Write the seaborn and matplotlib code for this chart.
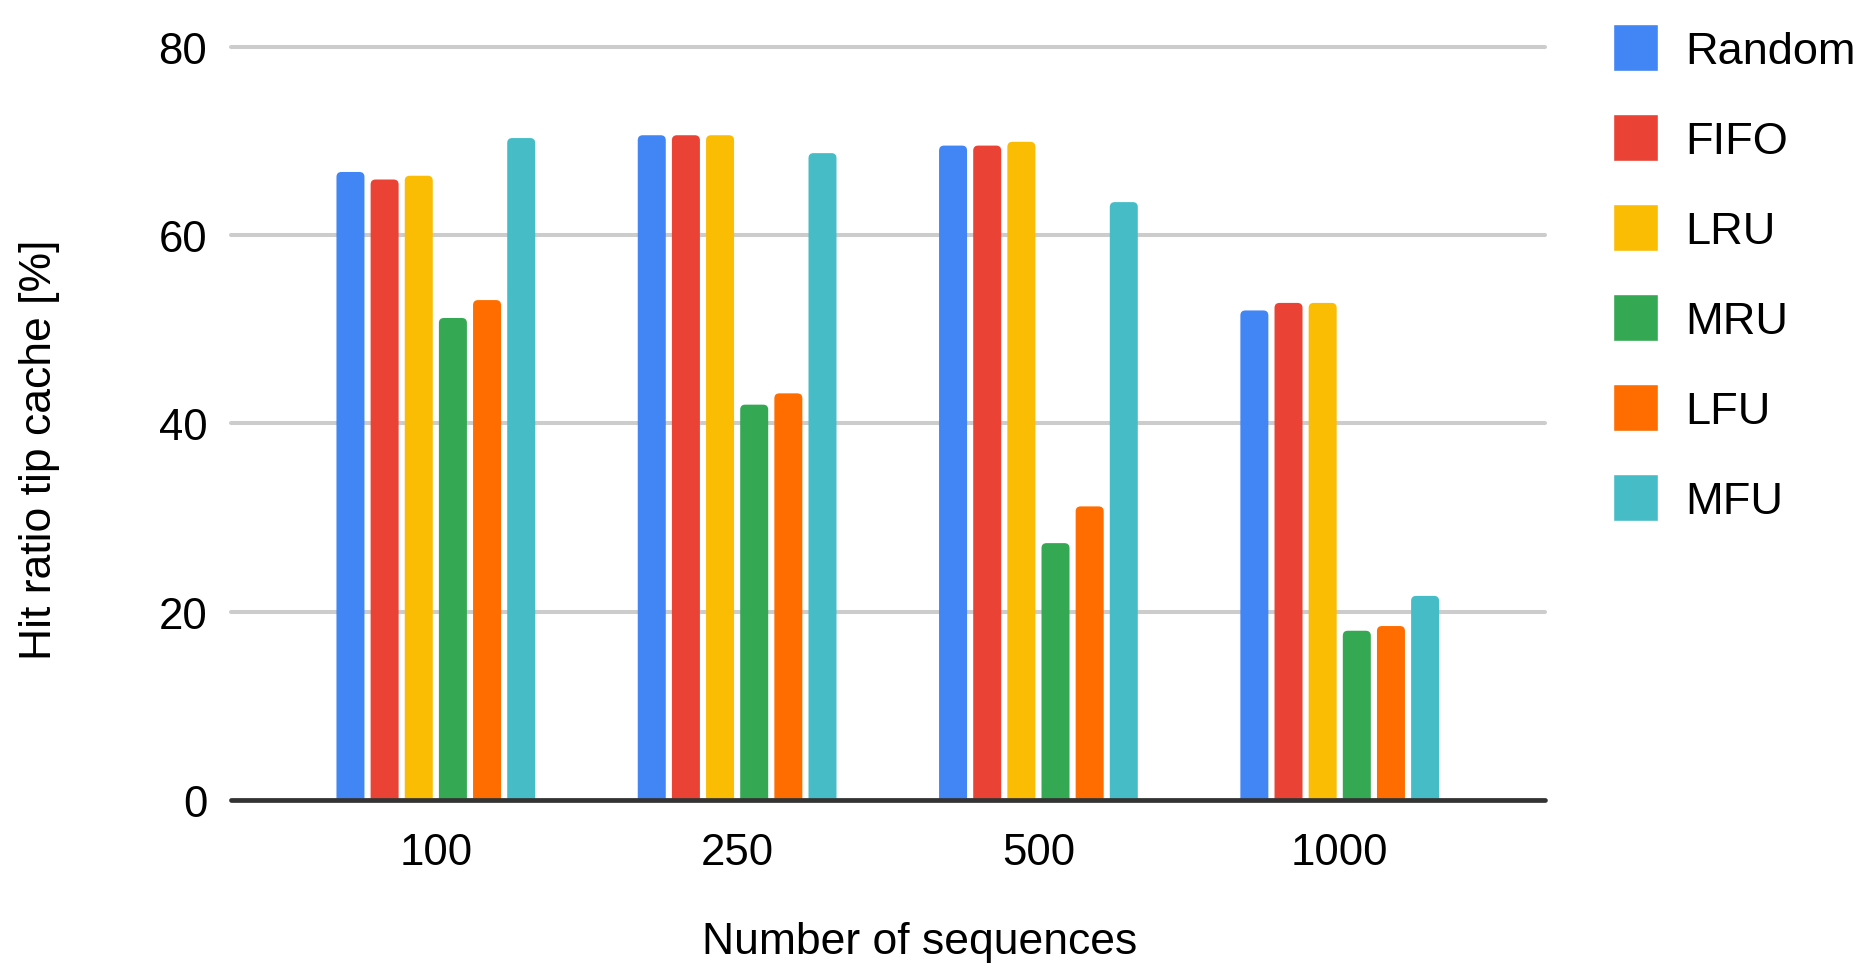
"""
Hit ratio of the tip cache per eviction policy, grouped by number of sequences.
"""

import pandas as pd
import matplotlib
matplotlib.use("Agg")
import matplotlib.pyplot as plt
from matplotlib.patches import FancyBboxPatch
import seaborn as sns

# --- Data ---
SIZES = ["100", "250", "500", "1000"]
POLICIES = ["Random", "FIFO", "LRU", "MRU", "LFU", "MFU"]
RANDOM = [66.7, 70.6, 69.5, 52.0]
FIFO = [65.9, 70.6, 69.5, 52.8]
LRU = [66.3, 70.6, 69.9, 52.8]
MRU = [51.2, 42.0, 27.3, 18.0]
LFU = [53.1, 43.2, 31.2, 18.5]
MFU = [70.3, 68.7, 63.5, 21.7]
COLORS = ["#4285F4", "#EA4335", "#FBBC04", "#34A853", "#FF6D01", "#46BDC6"]
Y_TICKS = [0, 20, 40, 60, 80]


def build_frame():
    values = [RANDOM, FIFO, LRU, MRU, LFU, MFU]
    rows = []
    for policy, series in zip(POLICIES, values):
        for size, v in zip(SIZES, series):
            rows.append({"size": size, "policy": policy, "ratio": v})
    return pd.DataFrame(rows)


def round_bar_tops(ax, radius_px=5):
    # swap the plain rectangles for rounded ones (bottom corners hidden below 0)
    p0 = ax.transData.transform((0, 0))
    p1 = ax.transData.transform((1, 1))
    px_x, px_y = p1[0] - p0[0], p1[1] - p0[1]
    r = radius_px / px_x
    aspect = px_x / px_y
    ext = radius_px / px_y
    for bar in list(ax.patches):
        x, y = bar.get_x(), bar.get_y()
        w, h = bar.get_width(), bar.get_height()
        rounded = FancyBboxPatch((x, y - ext), w, h + ext,
                                 boxstyle=f"round,pad=0,rounding_size={r}",
                                 mutation_aspect=aspect,
                                 facecolor=bar.get_facecolor(),
                                 edgecolor="none", zorder=2)
        bar.remove()
        ax.add_patch(rounded)


def main():
    df = build_frame()

    sns.set_theme(style="white")
    plt.rcParams["font.family"] = ["Liberation Sans", "DejaVu Sans"]
    plt.rcParams["text.color"] = "#000000"
    plt.rcParams["axes.labelcolor"] = "#000000"

    fig = plt.figure(figsize=(18.7, 9.79), dpi=100)
    ax = fig.add_axes([0.1235, 0.1815, 0.826 - 0.1235, 0.9513 - 0.1815])

    sns.barplot(data=df, x="size", y="ratio", hue="policy", order=SIZES,
                hue_order=POLICIES, palette=COLORS, width=0.68, gap=0.18,
                saturation=1, ax=ax, zorder=2)

    handles, labels = ax.get_legend_handles_labels()
    ax.get_legend().remove()

    ax.set_xlim(-0.68, 3.68)
    ax.set_ylim(0, 80)
    ax.set_yticks(Y_TICKS)
    round_bar_tops(ax)

    ax.yaxis.grid(True, color="#cccccc", linewidth=2.9, zorder=0)
    for line in ax.get_ygridlines():
        line.set_clip_on(False)
    ax.set_axisbelow(True)
    for spine in ax.spines.values():
        spine.set_visible(False)
    ax.axhline(0, color="#333333", linewidth=3.4, clip_on=False, zorder=3)

    ax.tick_params(axis="both", length=0, labelsize=31.5, colors="#000000")
    ax.tick_params(axis="y", pad=17)
    ax.tick_params(axis="x", pad=23)
    ax.set_xlabel("Number of sequences", fontsize=32)
    ax.set_ylabel("Hit ratio tip cache [%]", fontsize=32)
    ax.xaxis.label.set_verticalalignment("center")
    ax.xaxis.set_label_coords(0.5245, -0.187)
    ax.yaxis.set_label_coords(-0.130, 0.467)

    fig.legend(handles, labels, loc="upper left",
               bbox_to_anchor=(1590 / 1870, 1 - 2 / 979),
               frameon=False, fontsize=32.5, borderpad=0,
               handlelength=1.0, handleheight=1.25, handletextpad=0.62,
               labelspacing=0.93)

    fig.savefig("out.png", dpi=100, facecolor="white")


if __name__ == "__main__":
    main()
